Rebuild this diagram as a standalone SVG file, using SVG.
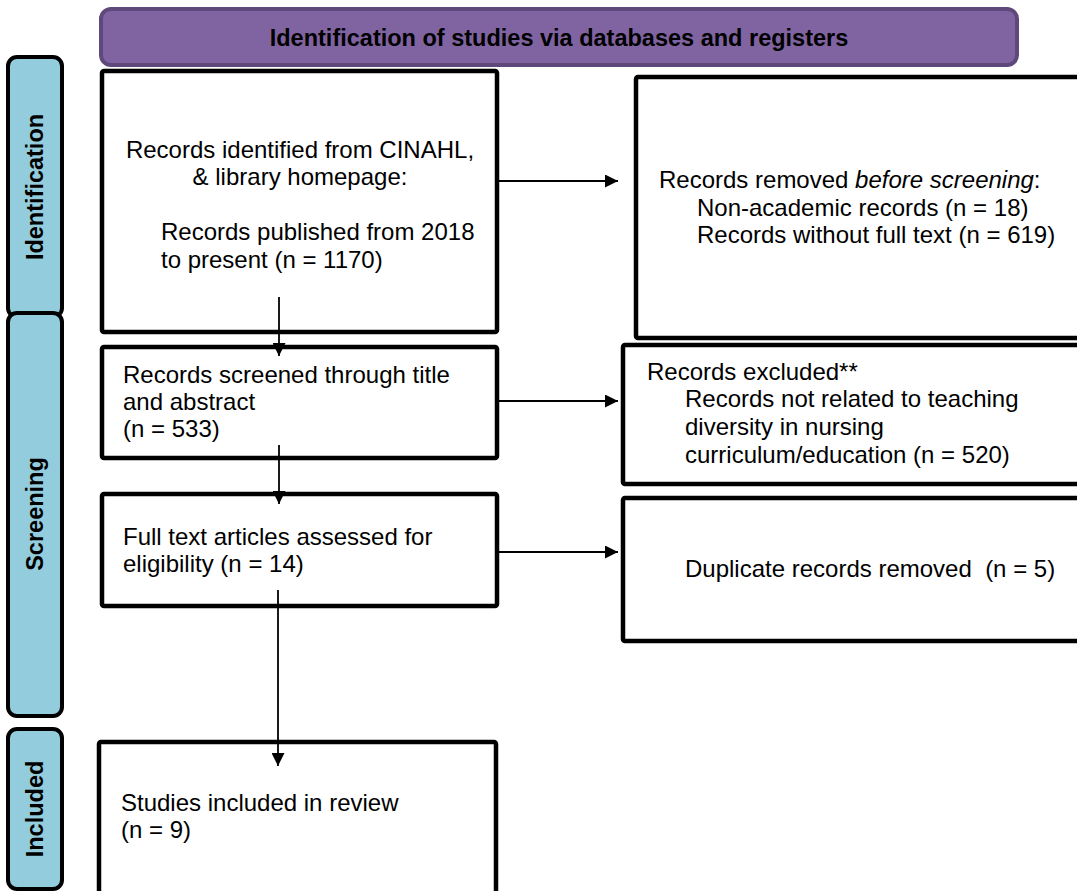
<svg xmlns="http://www.w3.org/2000/svg" width="1077" height="891" viewBox="0 0 1077 891">
<style>
.box{fill:#fff;stroke:#000;stroke-width:4.5}
.side{fill:#93CDDD;stroke:#000;stroke-width:4}
.t{font-family:"Liberation Sans",Arial,sans-serif;font-size:24px;fill:#000}
.b{font-family:"Liberation Sans",Arial,sans-serif;font-size:23.5px;font-weight:bold;fill:#000}
.c{stroke:#000;stroke-width:1.8;fill:none}
</style>
<defs>
<marker id="ah" viewBox="0 0 10 10" refX="10" refY="5" markerWidth="13" markerHeight="13" markerUnits="userSpaceOnUse" orient="auto">
<path d="M0,0 L10,5 L0,10 Z" fill="#000"/>
</marker>
</defs>
<rect width="1077" height="891" fill="#fff"/>
<g id="header">
<rect x="101" y="9" width="916" height="56" rx="10" fill="#8064A2" stroke="#5F497A" stroke-width="4"/>
<text class="b" x="559" y="46" text-anchor="middle">Identification of studies via databases and registers</text>
</g>
<g id="phase-identification">
<rect class="side" x="8" y="57" width="54" height="260" rx="9"/>
<text class="b" transform="translate(43,187) rotate(-90)" text-anchor="middle">Identification</text>
</g>
<g id="phase-screening">
<rect class="side" x="8" y="313" width="54" height="403" rx="9"/>
<text class="b" transform="translate(43,514) rotate(-90)" text-anchor="middle">Screening</text>
</g>
<g id="phase-included">
<rect class="side" x="8" y="729" width="54" height="160" rx="9"/>
<text class="b" transform="translate(43,809) rotate(-90)" text-anchor="middle">Included</text>
</g>
<g id="n-identified">
<rect class="box" x="102" y="71" width="395" height="261" rx="2"/>
<text class="t" x="300" y="158" text-anchor="middle">Records identified from CINAHL,</text>
<text class="t" x="300" y="185" text-anchor="middle">&amp; library homepage:</text>
<text class="t" x="161" y="240">Records published from 2018</text>
<text class="t" x="161" y="268">to present (n = 1170)</text>
</g>
<g id="n-removed">
<rect class="box" x="636" y="77" width="460" height="261" rx="2"/>
<text class="t" x="659" y="188">Records removed <tspan font-style="italic">before screening</tspan>:</text>
<text class="t" x="697" y="216">Non-academic records (n = 18)</text>
<text class="t" x="697" y="243">Records without full text (n = 619)</text>
</g>
<g id="n-screened">
<rect class="box" x="102" y="347" width="395" height="111" rx="2"/>
<text class="t" x="123" y="383">Records screened through title</text>
<text class="t" x="123" y="410">and abstract</text>
<text class="t" x="123" y="437">(n = 533)</text>
</g>
<g id="n-excluded">
<rect class="box" x="623" y="345" width="470" height="139" rx="2"/>
<text class="t" x="647" y="380">Records excluded**</text>
<text class="t" x="685" y="407">Records not related to teaching</text>
<text class="t" x="685" y="435">diversity in nursing</text>
<text class="t" x="685" y="463">curriculum/education (n = 520)</text>
</g>
<g id="n-fulltext">
<rect class="box" x="102" y="494" width="395" height="112" rx="2"/>
<text class="t" x="123" y="545">Full text articles assessed for</text>
<text class="t" x="123" y="572">eligibility (n = 14)</text>
</g>
<g id="n-duplicates">
<rect class="box" x="623" y="498" width="470" height="143" rx="2"/>
<text class="t" x="685" y="577" xml:space="preserve">Duplicate records removed  (n = 5)</text>
</g>
<g id="n-included">
<rect class="box" x="99" y="742" width="397" height="170" rx="2"/>
<text class="t" x="121" y="811">Studies included in review</text>
<text class="t" x="121" y="838">(n = 9)</text>
</g>
<g id="connectors">
<line class="c" x1="279" y1="297" x2="279" y2="356" marker-end="url(#ah)"/>
<line class="c" x1="279" y1="445" x2="279" y2="504" marker-end="url(#ah)"/>
<line class="c" x1="278" y1="590" x2="278" y2="766" marker-end="url(#ah)"/>
<line class="c" x1="497" y1="181" x2="618" y2="181" marker-end="url(#ah)"/>
<line class="c" x1="497" y1="401" x2="618" y2="401" marker-end="url(#ah)"/>
<line class="c" x1="497" y1="552" x2="618" y2="552" marker-end="url(#ah)"/>
</g>
</svg>
